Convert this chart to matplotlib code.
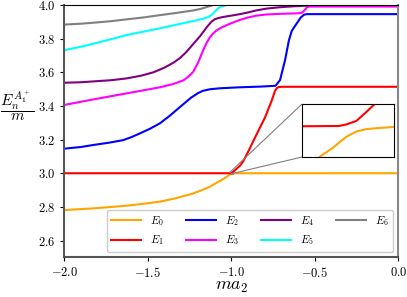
import numpy as np
import matplotlib
matplotlib.use("Agg")
import matplotlib.pyplot as plt
from mpl_toolkits.axes_grid1.inset_locator import mark_inset

plt.rcParams['font.family'] = 'serif'
plt.rcParams['font.serif'] = ['cmr10']
plt.rcParams['mathtext.fontset'] = 'cm'
plt.rcParams['axes.formatter.use_mathtext'] = True

# energy levels E_n/m versus m*a_2
x_E0 = [-2.0, -1.826, -1.626, -1.53, -1.427, -1.33, -1.228, -1.18, -1.128, -1.09, -1.048,
        -1.03, -1.015, -1.0062, -1.0032, -1.0004, -0.9982, -0.996, -0.9932, -0.99, -0.9, 0.0]
E0 = [2.781, 2.791, 2.807, 2.818, 2.831, 2.852, 2.880, 2.898, 2.920, 2.942, 2.965,
      2.977, 2.9878, 2.9942, 2.9960, 2.9980, 2.9990, 2.99947, 2.99967, 2.99987, 2.99995, 3.0]

x_E1 = [-2.0, -1.01, -1.002, -1.0004, -0.9982, -0.996, -0.9942, -0.97, -0.948, -0.928,
        -0.898, -0.868, -0.833, -0.798, -0.758, -0.738, -0.728, -0.718, -0.698, 0.0]
E1 = [3.0, 3.0, 3.00005, 3.00033, 3.0010, 3.0027, 3.0042, 3.025, 3.045, 3.072,
      3.13, 3.192, 3.262, 3.332, 3.432, 3.49, 3.505, 3.512, 3.514, 3.514]

x_E2 = [-2.0, -1.9, -1.826, -1.73, -1.647, -1.6, -1.547, -1.49, -1.427, -1.367, -1.307,
        -1.27, -1.24, -1.2, -1.17, -1.13, -1.07, -0.948, -0.828, -0.735, -0.708, -0.678,
        -0.655, -0.638, -0.608, -0.585, -0.565, -0.55, 0.0]
E2 = [3.146, 3.156, 3.168, 3.182, 3.197, 3.214, 3.237, 3.263, 3.297, 3.343, 3.394,
      3.425, 3.450, 3.476, 3.490, 3.499, 3.505, 3.511, 3.515, 3.520, 3.554, 3.673,
      3.79, 3.846, 3.891, 3.925, 3.942, 3.946, 3.946]

x_E3 = [-2.0, -1.826, -1.626, -1.427, -1.35, -1.287, -1.26, -1.228, -1.198, -1.168, -1.148,
        -1.128, -1.11, -1.09, -1.06, -1.008, -0.948, -0.9, -0.85, -0.788, -0.7, -0.6,
        -0.575, -0.56, -0.548, -0.535, 0.0]
E3 = [3.406, 3.439, 3.475, 3.511, 3.530, 3.552, 3.572, 3.603, 3.66, 3.732, 3.775,
      3.808, 3.83, 3.848, 3.866, 3.889, 3.912, 3.926, 3.937, 3.944, 3.948, 3.951,
      3.955, 3.97, 3.986, 3.991, 3.991]

x_E4 = [-2.0, -1.9, -1.826, -1.72, -1.626, -1.54, -1.467, -1.40, -1.347, -1.307, -1.27,
        -1.228, -1.187, -1.147, -1.12, -1.10, -1.08, -1.05, -1.0, -0.948, -0.9, -0.85,
        -0.788, -0.72, -0.668, -0.6, -0.539, -0.52]
E4 = [3.538, 3.541, 3.546, 3.553, 3.564, 3.58, 3.600, 3.628, 3.657, 3.685, 3.72,
      3.768, 3.815, 3.868, 3.900, 3.915, 3.922, 3.929, 3.937, 3.946, 3.956, 3.968,
      3.979, 3.986, 3.990, 3.994, 3.997, 4.02]

x_E5 = [-2.0, -1.9, -1.826, -1.72, -1.626, -1.52, -1.427, -1.307, -1.228, -1.17, -1.14,
        -1.12, -1.10, -1.08, -1.06, -1.03, -1.0]
E5 = [3.732, 3.752, 3.770, 3.797, 3.822, 3.843, 3.862, 3.888, 3.905, 3.918, 3.928,
      3.940, 3.958, 3.980, 3.992, 3.999, 4.01]

x_E6 = [-2.0, -1.9, -1.826, -1.72, -1.626, -1.52, -1.427, -1.33, -1.228, -1.18, -1.147,
        -1.12, -1.10]
E6 = [3.884, 3.889, 3.895, 3.904, 3.915, 3.927, 3.94, 3.953, 3.968, 3.978, 3.988,
      3.996, 4.005]

series = [(x_E0, E0, 'orange', r'$E_0$'),
          (x_E1, E1, 'red', r'$E_1$'),
          (x_E2, E2, 'blue', r'$E_2$'),
          (x_E3, E3, 'magenta', r'$E_3$'),
          (x_E4, E4, 'purple', r'$E_4$'),
          (x_E5, E5, 'cyan', r'$E_5$'),
          (x_E6, E6, 'gray', r'$E_6$')]

fig = plt.figure(figsize=(4.07, 2.97), dpi=100)
ax = fig.add_axes([0.158, 0.1336, 0.8206, 0.8494])

for xs, ys, c, lab in series:
    ax.plot(xs, ys, color=c, lw=1.5, label=lab)

ax.set_xlim(-2.0, 0.0)
ax.set_ylim(2.5, 4.0)
ax.set_xticks([-2.0, -1.5, -1.0, -0.5, 0.0])
ax.set_yticks([2.6, 2.8, 3.0, 3.2, 3.4, 3.6, 3.8, 4.0])
ax.tick_params(labelsize=9, length=3, direction='out', top=False, right=False)
for s in ['left', 'bottom']:
    ax.spines[s].set_color('#555555')
    ax.spines[s].set_linewidth(1.5)
ax.spines['right'].set_color('#888888')
ax.spines['right'].set_linewidth(1.5)
ax.spines['top'].set_color('black')
ax.spines['top'].set_linewidth(0.8)

ax.set_xlabel(r'$ma_2$', fontsize=13, va='center')
ax.xaxis.set_label_coords(0.5, -0.12)
ax.set_ylabel(r'$\dfrac{E_n^{A_1^+}}{m}$', fontsize=11, rotation=0, va='center', ha='center')
ax.yaxis.set_label_coords(-0.142, 0.60)

ax.legend(ncol=4, loc='lower right', fontsize=8, framealpha=1, edgecolor='#cccccc',
          handlelength=2.7, columnspacing=2.0)

# zoomed view of the avoided crossing
axins = fig.add_axes([302 / 407, 1 - 157 / 297, 92 / 407, 53 / 297])
axins.plot(x_E0, E0, color='orange', lw=1.5)
axins.plot(x_E1, E1, color='red', lw=1.5)
axins.set_xlim(-1.01, -0.99)
axins.set_ylim(2.9942, 3.0042)
axins.set_xticks([])
axins.set_yticks([])
mark_inset(ax, axins, loc1=2, loc2=3, fc='none', ec='0.5', lw=0.8)

fig.savefig('out.png', dpi=100)
